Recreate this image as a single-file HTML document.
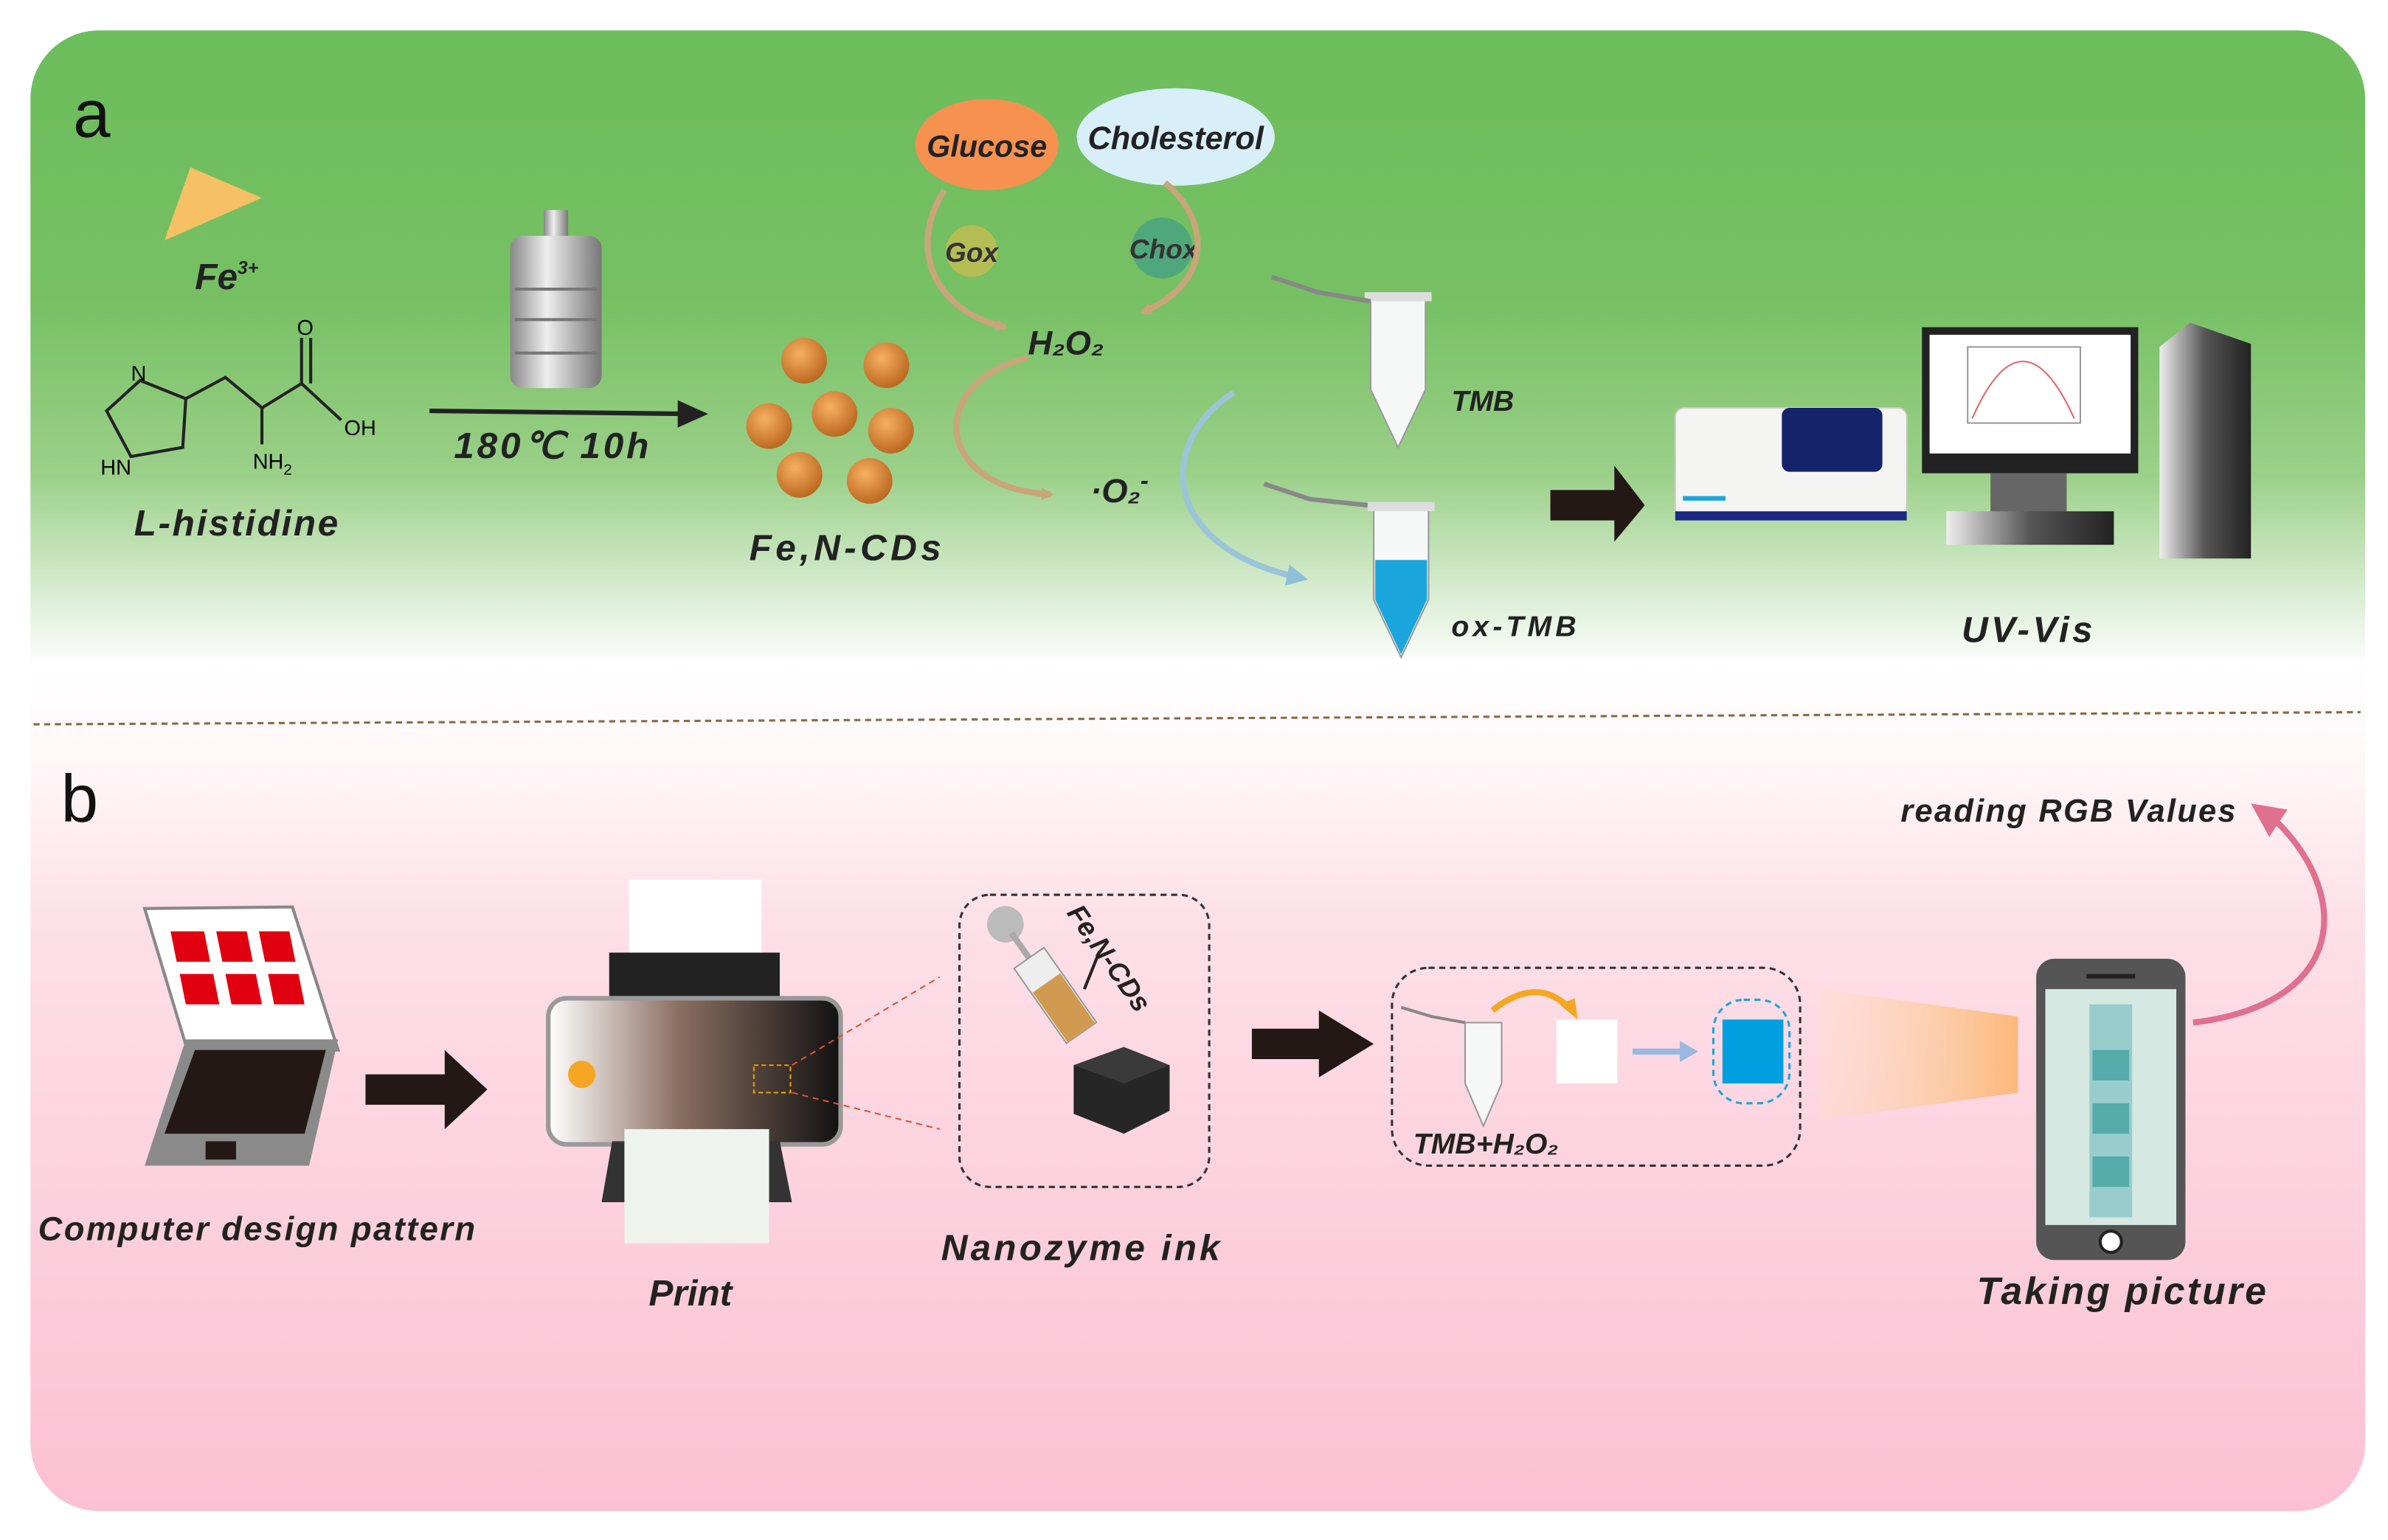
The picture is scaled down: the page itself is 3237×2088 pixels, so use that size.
<!DOCTYPE html>
<html><head><meta charset="utf-8"><style>html,body{margin:0;padding:0;background:#fff}svg{display:block}</style></head><body>
<svg width="3237" height="2088" viewBox="0 0 1568 1012" preserveAspectRatio="none" xmlns="http://www.w3.org/2000/svg" font-family="Liberation Sans, sans-serif">
<defs>
<linearGradient id="bg" x1="0" y1="0" x2="0" y2="1">
<stop offset="0" stop-color="#6cbd5c"/><stop offset="0.18" stop-color="#76c063"/><stop offset="0.3" stop-color="#9bd089"/><stop offset="0.43" stop-color="#ffffff"/><stop offset="0.5" stop-color="#fff6f8"/><stop offset="0.6" stop-color="#fde0e8"/><stop offset="1" stop-color="#fcc0d3"/>
</linearGradient>
<radialGradient id="ball" cx="0.4" cy="0.35" r="0.7"><stop offset="0" stop-color="#f7b060"/><stop offset="1" stop-color="#b8641e"/></radialGradient>
<linearGradient id="metal" x1="0" x2="1"><stop offset="0" stop-color="#888"/><stop offset="0.4" stop-color="#eee"/><stop offset="1" stop-color="#777"/></linearGradient>
<linearGradient id="printer" x1="0" x2="1"><stop offset="0" stop-color="#fff"/><stop offset="0.45" stop-color="#8a6e60"/><stop offset="1" stop-color="#111"/></linearGradient>
<linearGradient id="tower" x1="0" x2="1"><stop offset="0" stop-color="#eee"/><stop offset="0.5" stop-color="#555"/><stop offset="1" stop-color="#222"/></linearGradient>
<linearGradient id="beam" x1="0" x2="1"><stop offset="0" stop-color="#fde0c0" stop-opacity="0.3"/><stop offset="1" stop-color="#fcb878"/></linearGradient>
<marker id="ah" markerWidth="8" markerHeight="8" refX="6" refY="4" orient="auto" markerUnits="userSpaceOnUse"><path d="M0,0 L8,4 L0,8z" fill="#c9a57a"/></marker>
<marker id="ab" markerWidth="14" markerHeight="14" refX="10" refY="7" orient="auto" markerUnits="userSpaceOnUse"><path d="M0,0 L14,7 L0,14z" fill="#8ec0d8"/></marker>
</defs>
<rect x="20" y="20" width="1533" height="973" rx="45" fill="url(#bg)"/>
<line x1="22" y1="476" x2="1550" y2="468" stroke="#8a6a40" stroke-width="1.5" stroke-dasharray="4,3"/>
<text x="48" y="90" font-size="44" fill="#111">a</text>
<text x="40" y="540" font-size="44" fill="#111">b</text>
<polygon points="108,158 125,110 172,130" fill="#f6c064"/>
<text x="128" y="190" font-size="24" font-style="italic" font-weight="bold" fill="#222">Fe<tspan font-size="12" dy="-10">3+</tspan></text>
<g stroke="#222" stroke-width="2" fill="none">
<path d="M70,270 L92,250 L122,262 L120,294 L86,300 Z"/><path d="M122,262 L148,248 L172,268 L198,252 L224,276"/><path d="M172,268 L172,292"/><path d="M198,252 L198,222 M204,252 L204,222"/>
</g>
<text x="86" y="250" font-size="14">N</text><text x="66" y="312" font-size="14">HN</text><text x="166" y="308" font-size="14">NH<tspan font-size="10" dy="4">2</tspan></text><text x="195" y="220" font-size="14">O</text><text x="226" y="286" font-size="14">OH</text>
<text x="88" y="352" font-size="24" font-style="italic" font-weight="bold" fill="#222" textLength="134">L-histidine</text>
<g><rect x="357" y="138" width="16" height="20" fill="url(#metal)"/><rect x="335" y="155" width="60" height="100" rx="8" fill="url(#metal)"/><g stroke="#777" stroke-width="2"><line x1="338" y1="190" x2="392" y2="190"/><line x1="338" y1="210" x2="392" y2="210"/><line x1="338" y1="232" x2="392" y2="232"/></g></g>
<line x1="282" y1="270" x2="455" y2="272" stroke="#222" stroke-width="3"/><polygon points="465,272 445,263 445,281" fill="#222"/>
<text x="298" y="301" font-size="24" font-style="italic" font-weight="bold" fill="#222" textLength="128">180℃ 10h</text>
<g fill="url(#ball)"><circle cx="528" cy="237" r="15"/><circle cx="582" cy="240" r="15"/><circle cx="548" cy="272" r="15"/><circle cx="505" cy="280" r="15"/><circle cx="585" cy="283" r="15"/><circle cx="525" cy="312" r="15"/><circle cx="571" cy="316" r="15"/></g>
<text x="492" y="368" font-size="24" font-style="italic" font-weight="bold" fill="#222" textLength="126">Fe,N-CDs</text>
<ellipse cx="648" cy="95" rx="47" ry="30" fill="#f7914f"/><text x="648" y="103" font-size="20" font-style="italic" font-weight="bold" text-anchor="middle" fill="#222">Glucose</text>
<ellipse cx="772" cy="90" rx="65" ry="32" fill="#d8effa"/><text x="772" y="98" font-size="21" font-style="italic" font-weight="bold" text-anchor="middle" fill="#222">Cholesterol</text>
<circle cx="638" cy="165" r="17" fill="#b5bd55"/><text x="638" y="172" font-size="18" font-style="italic" font-weight="bold" text-anchor="middle" fill="#333">Gox</text>
<circle cx="763" cy="163" r="20" fill="#4fa87c"/><text x="764" y="170" font-size="18" font-style="italic" font-weight="bold" text-anchor="middle" fill="#333">Chox</text>
<g stroke="#c9a57a" stroke-width="4" fill="none"><path d="M620,125 C595,165 615,205 660,215" marker-end="url(#ah)"/><path d="M765,120 C800,150 790,190 750,205" marker-end="url(#ah)"/><path d="M675,235 C610,250 610,320 690,325" marker-end="url(#ah)"/></g>
<text x="675" y="233" font-size="22" font-style="italic" font-weight="bold" fill="#222">H₂O₂</text>
<text x="716" y="330" font-size="22" font-style="italic" font-weight="bold" fill="#222">·O₂<tspan dy="-9" font-size="16">-</tspan></text>
<path d="M810,258 C760,290 760,360 855,380" stroke="#9cc4d8" stroke-width="4" fill="none" marker-end="url(#ab)"/>
<g><path d="M900,196 h36 v60 l-18,38 l-18,-38z" fill="#f6f8f8" stroke="#999"/><rect x="896" y="192" width="44" height="6" fill="#ddd"/><path d="M835,182 l30,10 l35,6" stroke="#888" stroke-width="3" fill="none"/></g>
<text x="953" y="270" font-size="19" font-style="italic" font-weight="bold" fill="#222">TMB</text>
<g><path d="M902,334 h36 v60 l-18,38 l-18,-38z" fill="#f6f8f8" stroke="#999"/><path d="M903,368 h34 v26 l-17,36 l-17,-36z" fill="#1aa6dc"/><rect x="898" y="330" width="44" height="6" fill="#ddd"/><path d="M830,318 l30,10 l38,4" stroke="#888" stroke-width="3" fill="none"/></g>
<text x="953" y="418" font-size="19" font-style="italic" font-weight="bold" fill="#222" textLength="82">ox-TMB</text>
<polygon points="1018,322 1060,322 1060,306 1080,332 1060,356 1060,342 1018,342" fill="#231815"/>
<g><rect x="1100" y="268" width="152" height="74" rx="6" fill="#f4f4f2" stroke="#ccc"/><rect x="1100" y="336" width="152" height="6" fill="#1a2a80"/><rect x="1170" y="268" width="66" height="42" rx="5" fill="#14236a"/><rect x="1105" y="326" width="28" height="3" fill="#1aa6dc"/></g>
<g><rect x="1262" y="215" width="142" height="96" fill="#222"/><rect x="1267" y="220" width="132" height="78" fill="#fff"/><rect x="1292" y="228" width="74" height="50" fill="#fff" stroke="#999"/><path d="M1295,275 Q1328,200 1362,275" stroke="#d66" fill="none"/><rect x="1307" y="311" width="50" height="26" fill="#666"/><rect x="1278" y="336" width="110" height="22" fill="url(#tower)"/></g>
<path d="M1418,228 L1438,212 L1478,226 L1478,367 L1418,367 Z" fill="url(#tower)"/>
<text x="1288" y="422" font-size="24" font-style="italic" font-weight="bold" fill="#222" textLength="86">UV-Vis</text>
<polygon points="95,597 192,596 222,690 123,690" fill="#fff" stroke="#888" stroke-width="2"/>
<g fill="#e00010"><polygon points="112,612 134,612 138,632 116,632"/><polygon points="142,612 162,612 166,632 146,632"/><polygon points="170,612 190,612 194,632 174,632"/><polygon points="118,640 140,640 144,660 122,660"/><polygon points="148,640 168,640 172,660 152,660"/><polygon points="176,640 196,640 200,660 180,660"/></g>
<polygon points="122,683 222,683 203,766 95,766" fill="#8a8a8a"/><polygon points="128,690 214,690 200,745 108,745" fill="#231815"/><rect x="135" y="750" width="20" height="12" fill="#231815"/>
<polygon points="240,706 292,706 292,690 320,716 292,742 292,726 240,726" fill="#231815"/>
<text x="25" y="815" font-size="22" font-style="italic" font-weight="bold" fill="#222" textLength="287">Computer design pattern</text>
<g><rect x="413" y="578" width="87" height="80" fill="#fff"/><rect x="400" y="626" width="112" height="42" fill="#222"/><rect x="360" y="656" width="192" height="96" rx="12" fill="url(#printer)" stroke="#999" stroke-width="3"/><circle cx="382" cy="706" r="9" fill="#f5a623"/><rect x="495" y="700" width="24" height="18" fill="none" stroke="#e8a000" stroke-dasharray="3,2"/><polygon points="402,750 512,750 520,790 395,790" fill="#333"/><rect x="410" y="742" width="95" height="75" fill="#eef3ee"/></g>
<line x1="520" y1="700" x2="617" y2="642" stroke="#e05030" stroke-dasharray="4,3"/><line x1="520" y1="718" x2="617" y2="742" stroke="#e05030" stroke-dasharray="4,3"/>
<text x="426" y="858" font-size="24" font-style="italic" font-weight="bold" fill="#222">Print</text>
<rect x="630" y="588" width="164" height="192" rx="20" fill="none" stroke="#333" stroke-width="1.5" stroke-dasharray="4,3"/>
<g transform="rotate(-35 690 650)"><circle cx="690" cy="598" r="12" fill="#bbb"/><rect x="688" y="605" width="4" height="20" fill="#aaa"/><rect x="678" y="625" width="24" height="60" fill="#eee" stroke="#999"/><rect x="679" y="645" width="22" height="40" fill="#d09a50"/></g>
<text x="700" y="600" font-size="18" font-style="italic" font-weight="bold" fill="#222" transform="rotate(55 700 600)">Fe,N-CDs</text>
<line x1="722" y1="625" x2="712" y2="650" stroke="#222" stroke-width="2"/>
<polygon points="705,700 738,688 768,700 768,730 738,745 705,732" fill="#262626"/><polygon points="705,700 738,688 768,700 738,712" fill="#3a3a3a"/>
<text x="618" y="828" font-size="24" font-style="italic" font-weight="bold" fill="#222" textLength="183">Nanozyme ink</text>
<polygon points="822,676 866,676 866,664 902,686 866,708 866,696 822,696" fill="#231815"/>
<rect x="914" y="636" width="268" height="130" rx="24" fill="none" stroke="#333" stroke-width="1.5" stroke-dasharray="4,3"/>
<path d="M962,672 h24 v40 l-12,28 l-12,-28z" fill="#f6f8f8" stroke="#999"/><path d="M920,662 l20,6 l22,4" stroke="#888" stroke-width="2" fill="none"/>
<path d="M980,664 Q1010,640 1032,664" stroke="#f5a623" stroke-width="4" fill="none"/><polygon points="1036,670 1024,660 1034,656" fill="#f5a623"/>
<rect x="1022" y="670" width="40" height="42" fill="#fff"/>
<line x1="1072" y1="691" x2="1105" y2="691" stroke="#9ab8e0" stroke-width="4"/><polygon points="1115,691 1103,684 1103,698" fill="#9ab8e0"/>
<rect x="1125" y="657" width="50" height="68" rx="20" fill="none" stroke="#1aa6dc" stroke-width="1.5" stroke-dasharray="4,3"/><rect x="1131" y="670" width="40" height="42" fill="#00a0e0"/>
<text x="928" y="758" font-size="19" font-style="italic" font-weight="bold" fill="#222">TMB+H₂O₂</text>
<polygon points="1195,650 1325,668 1325,718 1195,736" fill="url(#beam)"/>
<rect x="1337" y="630" width="98" height="198" rx="12" fill="#555"/><rect x="1343" y="650" width="86" height="155" fill="#d6e8e2"/><rect x="1372" y="660" width="28" height="140" fill="#9cc"/><g fill="#5aa"><rect x="1374" y="690" width="24" height="20"/><rect x="1374" y="725" width="24" height="20"/><rect x="1374" y="760" width="24" height="20"/></g><circle cx="1386" cy="816" r="7" fill="#fff" stroke="#222" stroke-width="2"/><rect x="1370" y="640" width="32" height="3" fill="#222"/>
<path d="M1440,672 C1540,660 1545,590 1495,540" stroke="#e07090" stroke-width="4" fill="none"/><polygon points="1478,528 1502,532 1490,550" fill="#e07090"/>
<text x="1248" y="540" font-size="21" font-style="italic" font-weight="bold" fill="#222" textLength="220">reading RGB Values</text>
<text x="1298" y="857" font-size="25" font-style="italic" font-weight="bold" fill="#222" textLength="190">Taking  picture</text>
</svg>
</body></html>
